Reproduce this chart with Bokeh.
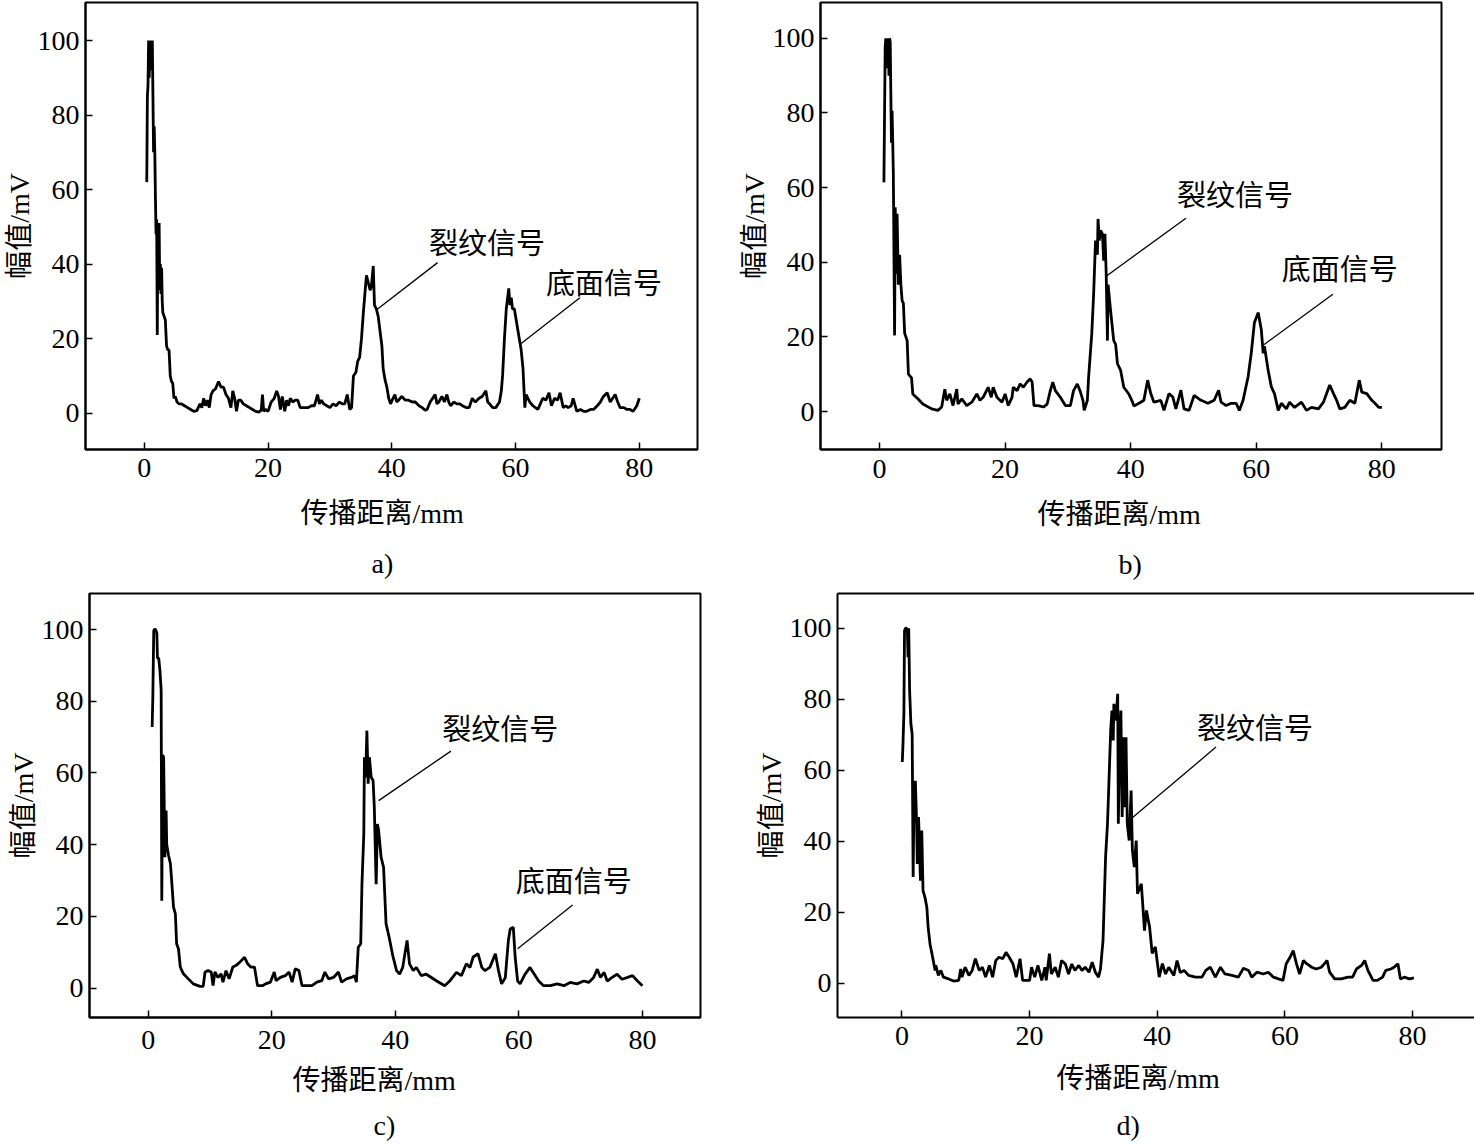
from bokeh.plotting import figure
from bokeh.models import Range1d, FixedTicker, LinearAxis, Title
from bokeh.layouts import column, row
from bokeh.core.properties import value
from bokeh.embed import file_html
from bokeh.resources import INLINE

# ---------------- data ----------------
X_TICKS = [0, 20, 40, 60, 80]
Y_TICKS = [0, 20, 40, 60, 80, 100]
X_LABEL = "传播距离/mm"
Y_LABEL = "幅值/mV"
CRACK = "裂纹信号"
BACKWALL = "底面信号"
CAPTIONS = ["a)", "b)", "c)", "d)"]

# (distance mm, amplitude mV)
trace_a = [(0.4,62),(0.5,85),(0.6,88),(0.7,100),(0.8,90),(0.9,100),(1.0,95),(1.1,100),(1.2,92),(1.3,100),
           (1.4,85),(1.5,70),(1.6,77),(1.7,70),(1.8,58),(1.9,48),(2.0,52),(2.1,21),(2.2,50),(2.3,35),
           (2.4,51),(2.5,33),(2.6,40),(2.7,32),(2.8,39),(2.9,30),(3.0,27),(3.2,26),(3.4,25),(3.6,18),
           (3.8,17),(4.0,17),(4.2,10),(4.4,8.5),(4.6,8),(4.8,4),(5.0,4.5),(5.3,3),(5.6,2.5),(6.0,2.5),
           (6.5,2),(7.0,1.5),(7.5,1),(8.0,0.5),(8.5,0.7),(9.0,2.5),(9.3,1.5),(9.6,4),(9.9,2),(10.2,3.5),
           (10.5,1.5),(10.8,5),(11.1,6),(11.5,6.5),(12.0,8.5),(12.4,7),(12.8,7),(13.2,5),(13.6,4),(14.0,1.5),
           (14.3,6),(14.6,4),(14.9,0.5),(15.2,3.5),(15.6,3.5),(16.0,2.5),(16.5,2),(17.0,1.5),(17.5,1),(18.0,0.5),
           (18.5,0.3),(18.9,0.8),(19.1,5),(19.3,0.5),(19.6,1),(20.0,0.5),(20.5,3),(21.0,4),(21.4,6),(21.7,4.5),
           (22.0,1),(22.3,4.5),(22.7,0.5),(23.0,3.5),(23.3,2),(23.6,4),(24.0,3),(24.4,3.5),(24.8,3.5),(25.2,1.5),
           (25.6,1.5),(26.0,1.5),(26.5,1.5),(27.0,2),(27.5,2),(28.0,5),(28.3,2.5),(28.6,3.5),(29.0,2.5),(29.5,2),
           (30.0,1.5),(30.5,2.5),(31.0,2),(31.5,3),(32.0,2.5),(32.4,2.5),(32.8,5),(33.2,1),(33.5,1.5),(33.8,10),
           (34.2,11),(34.5,14),(34.8,15),(35.1,20),(35.4,27),(35.6,31),(35.9,37),(36.2,35),(36.5,33),(36.7,34),
           (37.0,39.5),(37.2,29),(37.5,28),(37.8,26),(38.1,22),(38.4,18),(38.6,12),(38.9,9),(39.2,7),(39.5,4),
           (39.8,2.5),(40.2,4),(40.5,5),(40.8,3),(41.1,3.5),(41.6,4.5),(42.2,3.5),(42.7,3.5),(43.3,3),(43.8,3),
           (44.4,2),(44.9,1.5),(45.4,0.8),(45.7,1),(46.2,3),(46.6,4),(47.0,5),(47.3,2.5),(47.6,3),(48.1,4.5),
           (48.5,3),(48.9,5),(49.2,3),(49.5,2),(50.0,3),(50.5,2.5),(51.0,2.5),(51.4,2),(52.0,1.5),(52.5,1.5),
           (53.0,4),(53.5,3),(54.1,4),(54.6,4.5),(55.2,6),(55.5,3),(55.8,2.5),(56.3,1.5),(56.8,1.5),(57.4,3),
           (57.7,6),(57.9,10),(58.2,20),(58.5,28),(58.9,33.5),(59.1,29),(59.3,31),(59.5,28),(59.8,28),(60.0,26),
           (60.4,22),(60.7,19),(60.9,17),(61.2,12),(61.4,5),(61.5,1.5),(61.7,5),(62.0,4),(62.3,3),(62.8,2),
           (63.2,1.5),(63.6,1),(64.0,2.5),(64.4,4),(64.9,3.5),(65.4,5.5),(65.8,2),(66.3,4),(66.8,3.5),(67.2,5.5),
           (67.7,1.5),(68.1,2),(68.5,1.5),(69.0,2),(69.3,4),(69.9,0.5),(70.5,1),(71.0,0.5),(71.5,0.5),(72.1,1),
           (72.6,1),(73.2,2),(73.7,3),(74.2,4.5),(74.8,5.5),(75.3,3),(75.7,4),(76.1,5),(76.5,3),(76.9,1.5),
           (77.5,1.5),(78.0,1),(78.5,1),(79.0,0.5),(79.6,2),(80.0,4)]

trace_b = [(0.7,61.4),(0.9,97.6),(1.0,100),(1.1,92),(1.2,100),(1.3,96),(1.4,100),(1.5,90),(1.6,100),(1.7,99),
           (1.9,72),(2.0,80.6),(2.1,72.6),(2.2,63.7),(2.4,20.4),(2.5,54.7),(2.7,36.9),(2.8,53),(3.0,34),(3.2,42),
           (3.4,34),(3.6,29.7),(3.8,29),(4.0,21),(4.4,19),(4.6,10),(5.1,9),(5.3,4.7),(6.1,3.4),(6.9,2),
           (8.3,0.7),(9.3,0.3),(9.9,1.2),(10.4,6),(10.7,3),(11.2,4.7),(11.7,1.6),(12.3,6),(12.5,2),(13.1,3.4),
           (13.9,1.6),(14.7,2.5),(15.5,4.7),(16.0,3),(16.5,3.8),(17.3,6.5),(17.8,3.8),(18.1,6.5),(18.7,3.8),(19.5,2.5),
           (20.0,4.7),(20.5,1.6),(21.1,3.8),(21.3,6.5),(21.9,5.6),(22.4,7.4),(22.9,6.5),(23.5,7.9),(24.0,8.75),(24.3,7.9),
           (24.6,1.6),(25.3,1.6),(26.1,1.2),(26.7,2),(27.2,5.6),(27.6,7.9),(28.0,5.6),(28.8,3.8),(29.6,1.6),(30.4,1.6),
           (30.9,5.6),(31.5,7.4),(32.0,5.2),(32.4,3),(32.6,0.3),(33.1,3),(33.3,9.2),(33.8,20.8),(34.1,31.5),(34.4,45.8),
           (34.7,42),(34.8,51.6),(35.0,45.8),(35.2,48.5),(35.5,47.6),(35.7,40.4),(35.9,47.6),(36.1,36.9),(36.3,19),(36.4,34),
           (36.8,27),(37.3,19),(37.6,18),(37.9,12.8),(38.4,11),(38.9,6.5),(39.7,4.7),(40.3,2.5),(40.5,1.5),(41.1,2),
           (41.6,2.5),(42.1,3),(42.7,8.4),(43.2,4.8),(43.7,2.5),(44.8,3),(45.3,0.3),(46.1,4.8),(46.7,3.9),(47.2,0.7),
           (48.0,5.7),(48.5,0.7),(49.3,0.3),(50.1,4.3),(51.2,3),(52.3,2.2),(53.3,3),(54.0,5.7),(54.4,2.5),(55.2,1.6),
           (56.0,2.2),(56.8,2.2),(57.3,0.3),(57.9,3),(58.7,9.3),(59.2,15.6),(59.7,23.8),(60.3,26.5),(60.8,22),(61.1,15.6),
           (61.3,17.5),(61.9,11),(62.4,6.6),(62.9,4.8),(63.5,0.3),(64.0,2.2),(64.8,0.7),(65.3,2.5),(66.1,1.1),(67.2,2.5),
           (68.0,0.3),(68.8,1.1),(69.9,0.7),(70.7,2.5),(71.2,4.8),(71.7,7.1),(72.3,4.8),(72.8,3),(73.3,0.7),(74.1,1.1),
           (74.9,3),(75.7,2.2),(76.4,8.4),(76.8,5.2),(77.6,4.8),(78.4,3),(78.9,2.2),(79.5,1.1),(80.0,1.1)]

trace_c = [(0.64,72.8),(0.75,81),(0.9,99.7),(1.0,100),(1.2,100),(1.4,99),(1.5,92),(1.7,92),(1.9,88.6),(2.1,83),
           (2.2,24.4),(2.35,65),(2.5,64.4),(2.7,36.5),(2.9,49.5),(3.0,40),(3.3,37),(3.6,34.7),(3.8,30),(4.1,22.6),
           (4.4,20.7),(4.6,12.4),(4.9,11),(5.2,5.9),(5.7,4),(6.5,2.6),(7.3,1.2),(8.4,0.5),(8.9,0.5),(9.2,4.5),
           (9.7,4.9),(10.2,4.5),(10.5,0.7),(10.8,4.5),(11.3,3),(11.8,4),(12.1,1.7),(12.6,4.9),(13.1,2.6),(13.7,5.9),
           (14.2,6.3),(14.8,7.2),(15.6,8.6),(16.1,6.8),(16.6,5.9),(17.2,5.9),(17.7,0.7),(18.5,0.7),(19.0,1.2),(19.8,1.7),
           (20.4,4.5),(20.7,2.1),(21.4,3),(22.2,3.5),(22.8,4.5),(23.3,1.7),(23.8,5.4),(24.4,4.9),(24.9,0.7),(25.7,0.7),
           (26.5,0.7),(27.3,1.7),(28.1,2.1),(28.6,4.5),(29.2,2.6),(30.0,3),(30.8,4.5),(31.3,1.7),(32.1,2.6),(32.9,3),
           (33.4,3.5),(33.7,1.7),(34.0,11.4),(34.4,12.4),(34.6,29),(34.9,43),(35.0,64.4),(35.2,58.8),(35.4,71.8),(35.6,57),
           (35.8,64.4),(36.1,58.8),(36.4,57.9),(36.6,50.5),(36.9,29),(37.1,45.8),(37.3,44),(37.7,36.5),(38.1,33.7),(38.5,18),
           (39.0,14.2),(39.6,9),(40.2,4.9),(40.7,3.9),(41.2,5.8),(41.9,13.3),(42.3,6.8),(42.9,4.9),(43.4,5.8),(44.2,3.5),
           (45.0,3.9),(45.9,2.9),(46.7,2),(48.0,0.7),(48.8,2),(49.9,4.4),(50.7,3.5),(51.5,6.8),(52.1,5.8),(52.6,8.7),
           (53.4,9.6),(54.0,5.8),(54.5,4.9),(55.3,5.8),(56.2,9.6),(56.7,4.9),(57.2,1.2),(57.8,2.9),(58.3,13.3),(58.6,16.5),
           (59.1,17),(59.4,8.7),(59.8,2),(60.2,1.2),(61.0,3.9),(61.8,5.8),(62.5,3.9),(63.2,2),(64.0,0.7),(65.1,0.7),
           (66.2,1.2),(67.3,0.7),(68.3,1.6),(69.4,1.2),(70.5,2),(71.3,1.6),(72.1,3),(72.7,5.3),(73.2,3),(73.8,4.4),
           (74.3,2),(75.1,3),(75.9,3.9),(76.7,2.5),(77.6,3),(78.4,3.5),(79.2,2),(80.0,0.7)]

trace_d = [(0.05,62.3),(0.16,67.4),(0.3,75.9),(0.4,99.3),(0.55,100),(0.7,100),(0.85,99),(0.95,91.8),(1.06,100),(1.2,82.4),
           (1.4,73),(1.6,70.2),(1.75,29.9),(1.9,54.3),(2.1,57),(2.3,44.9),(2.4,33.6),(2.6,46.8),(2.9,28.9),(3.1,43),
           (3.3,26.1),(3.6,24.2),(3.9,21.4),(4.1,15.8),(4.4,11),(4.7,8.3),(4.9,6.4),(5.2,3.6),(5.3,5),(5.7,2.2),
           (6.1,3.6),(6.5,1.7),(7.3,1.2),(8.1,0.6),(8.9,0.8),(9.2,4),(9.4,1.7),(9.9,4.5),(10.5,2.2),(11.0,3.6),
           (11.5,6.9),(12.1,3.6),(12.6,4.5),(13.1,1.7),(13.7,5),(14.2,1.7),(14.7,6.4),(15.2,7.3),(15.8,6.9),(16.3,8.7),
           (16.8,7.3),(17.4,5.4),(17.9,1.7),(18.5,6.9),(18.9,0.8),(19.5,0.8),(20.0,0.8),(20.3,4.5),(20.8,1.7),(21.3,5),
           (21.9,0.8),(22.4,4.5),(22.6,0.8),(23.1,8.3),(23.4,2.6),(24.0,4.5),(24.5,1.7),(25.0,6.4),(25.6,5.4),(26.1,2.6),
           (26.6,5.4),(27.1,3.6),(27.7,5),(28.2,3.6),(28.7,4.5),(29.3,3.1),(29.8,5.9),(30.3,3.1),(30.8,1.7),(31.1,4),
           (31.5,12),(31.9,35.5),(32.2,44.9),(32.4,55.2),(32.7,71.2),(32.9,76.8),(33.1,68.4),(33.2,78.7),(33.5,74),(33.8,81.5),
           (33.9,44.9),(34.1,68.4),(34.3,76.8),(34.5,46.8),(34.7,69.3),(34.9,49.6),(35.1,69.3),(35.3,44.9),(35.6,40.2),(35.9,54.3),
           (36.1,37.4),(36.4,32.7),(36.7,40.2),(36.9,25.2),(37.5,28),(38.0,14.8),(38.3,20.5),(38.8,15.8),(39.2,8.4),(39.7,10.2),
           (40.3,1.7),(40.8,5.5),(41.3,2.6),(41.8,4.5),(42.6,2.2),(43.1,6.4),(43.6,3),(44.2,3.6),(44.9,2.2),(46.0,1.7),
           (47.0,1.7),(47.6,3.6),(48.3,4.5),(49.1,1.7),(49.9,4.5),(50.6,2.6),(51.7,2.2),(52.7,1.7),(53.5,4.2),(54.3,3.6),
           (54.8,1.7),(55.6,3.1),(56.6,2.6),(57.4,3.1),(58.2,1.7),(59.0,1.2),(59.7,0.8),(60.2,5.5),(60.8,7.3),(61.3,9.2),
           (61.8,5.5),(62.3,2.6),(62.9,6.4),(63.4,5.5),(64.2,4.5),(64.9,4),(65.7,4.5),(66.2,5.5),(66.6,6.4),(67.0,3.1),
           (67.8,1.2),(68.8,1.2),(69.9,1.7),(70.6,1.7),(71.2,4),(72.0,5),(72.5,6.4),(73.0,3.6),(73.8,0.8),(74.5,0.8),
           (75.3,1.7),(75.8,3.6),(76.6,4),(77.1,4.5),(77.7,5.5),(78.1,1.2),(78.7,1.7),(79.5,1.2),(80.2,1.5)]

# annotation: (label, text x, text y, leader x0, y0, x1, y1) in data units
notes_a = [(CRACK, 55.4, 45.5, 37.5, 27.7, 47.4, 40.4), (BACKWALL, 74.3, 34.8, 60.9, 18.7, 70.4, 31.0)]
notes_b = [(CRACK, 56.6, 57.8, 36.2, 36.4, 48.8, 51.8), (BACKWALL, 73.3, 38.0, 61.2, 17.9, 72.2, 31.4)]
notes_c = [(CRACK, 57.0, 72.1, 37.3, 52.3, 49.0, 66.1), (BACKWALL, 68.9, 29.7, 59.8, 11.0, 68.7, 23.2)]
notes_d = [(CRACK, 55.3, 71.5, 35.9, 46.3, 49.2, 66.5)]

# ---------------- drawing ----------------
FONT = "Liberation Serif, Noto Sans CJK SC"
FS = "28px"


def make_panel(trace, notes, caption, width, height, border, xr, yr, tick_standoff,
               xlabel_place, caption_place, open_right=False):
    bl, br, bt, bb = border
    p = figure(width=width, height=height, title=None,
               x_range=Range1d(*xr), y_range=Range1d(*yr),
               output_backend="svg", toolbar_location=None,
               min_border_left=bl, min_border_right=br,
               min_border_top=bt, min_border_bottom=bb,
               background_fill_color="white", border_fill_color="white")
    p.xgrid.visible = False
    p.ygrid.visible = False
    xa = p.xaxis[0]
    ya = p.yaxis[0]

    for ax in (xa, ya):
        ax.axis_line_width = 2
        ax.axis_line_color = "black"
        ax.major_tick_in = 7
        ax.major_tick_out = 0
        ax.major_tick_line_width = 1.5
        ax.major_tick_line_color = "black"
        ax.minor_tick_line_color = None
        ax.major_label_text_font = FONT
        ax.major_label_text_font_size = FS
        ax.major_label_text_color = "black"
        ax.axis_label_text_font = FONT
        ax.axis_label_text_font_size = FS
        ax.axis_label_text_font_style = "normal"
        ax.axis_label_text_color = "black"

    xa.ticker = FixedTicker(ticks=X_TICKS)
    ya.ticker = FixedTicker(ticks=Y_TICKS)
    ya.axis_label = Y_LABEL
    xa.major_label_standoff = tick_standoff
    ya.major_label_standoff = 6
    ya.axis_label_standoff = 0

    if open_right:
        p.outline_line_color = None
        top = LinearAxis(ticker=FixedTicker(ticks=[]), axis_line_width=2, axis_line_color="black",
                         major_tick_line_color=None, minor_tick_line_color=None,
                         major_label_text_font_size="0px", major_label_standoff=0)
        p.add_layout(top, "above")
    else:
        p.outline_line_color = "black"
        p.outline_line_width = 2
        p.outline_line_alpha = 1.0

    xs = [t[0] for t in trace]
    ys = [t[1] for t in trace]
    p.line(xs, ys, line_color="black", line_width=2.8)

    for (lab, tx, ty, x0, y0, x1, y1) in notes:
        p.segment(x0=[x0], y0=[y0], x1=[x1], y1=[y1], line_color="black", line_width=1.3)
        p.text(x=[tx], y=[ty], text=[lab], text_font=value(FONT), text_font_size=value("29px"),
               text_align="center", text_baseline="middle", text_color="black")

    # x-axis title and sub-figure caption stacked under the axis
    for txt, (off, st) in ((X_LABEL, xlabel_place), (caption, caption_place)):
        p.add_layout(Title(text=txt, align="left", offset=off, standoff=st,
                           text_font=FONT, text_font_size=FS, text_font_style="normal",
                           text_color="black"), "below")
    return p


pa = make_panel(trace_a, notes_a, CAPTIONS[0], 735, 588, (84, 38, 2, 139),
                (-9.5, 89.4), (-9.74, 110.2), 9, (215, 33), (286, 0))
pb = make_panel(trace_b, notes_b, CAPTIONS[1], 739, 588, (84, 33, 2, 139),
                (-9.4, 89.5), (-10.18, 109.6), 10, (217, 33), (298, 0))
pc = make_panel(trace_c, notes_c, CAPTIONS[2], 752, 557, (89, 52, 5, 128),
                (-9.5, 89.4), (-8.17, 110.04), 13, (203, 23), (284, 0))
pd = make_panel(trace_d, notes_d, CAPTIONS[3], 722, 557, (84, 0, 5, 128),
                (-10.1, 89.7), (-9.66, 109.77), 9, (219, 27), (279, 0), open_right=True)

layout = column(row(pa, pb), row(pc, pd))

open("out.html", "w").write(file_html(layout, INLINE))
